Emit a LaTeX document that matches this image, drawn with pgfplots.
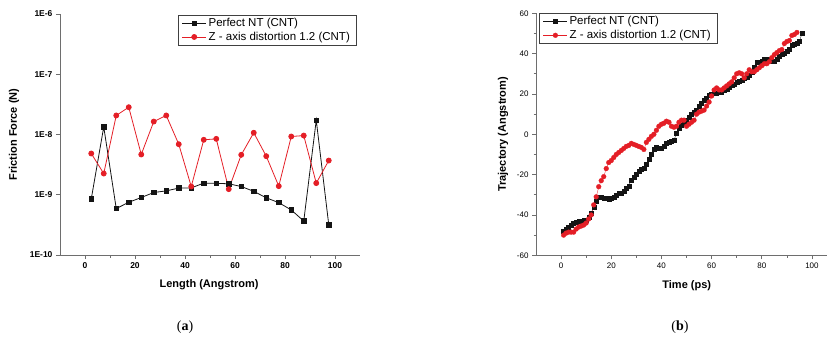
\documentclass[border=0pt]{standalone}
\usepackage{fontspec}
\setmainfont{Liberation Sans}
\newfontfamily\seriffont{Liberation Serif}
\usepackage{pgfplots}
\usepackage{pgfplotstable}
\pgfplotsset{compat=1.18}
\definecolor{ored}{RGB}{228,30,38}
\definecolor{oblack}{RGB}{20,20,20}
\definecolor{axgray}{RGB}{110,110,110}

\pgfplotstableread{
x perfect distort
2.5 8.5e-10 4.84e-9
7.5 1.34e-8 2.25e-9
12.5 5.9e-10 2.07e-8
17.5 7.5e-10 2.84e-8
22.5 9.0e-10 4.66e-9
27.5 1.09e-9 1.64e-8
32.5 1.16e-9 2.07e-8
37.5 1.29e-9 6.9e-9
42.5 1.30e-9 1.37e-9
47.5 1.56e-9 8.17e-9
52.5 1.55e-9 8.47e-9
57.5 1.52e-9 1.24e-9
62.5 1.37e-9 4.6e-9
67.5 1.14e-9 1.07e-8
72.5 8.9e-10 4.37e-9
77.5 7.4e-10 1.39e-9
82.5 5.6e-10 9.27e-9
87.5 3.66e-10 9.6e-9
92.5 1.73e-8 1.56e-9
97.5 3.18e-10 3.7e-9
}\frictable

\pgfplotstableread{
t y
1 -48
2 -47
3 -46
4 -45
5 -44
6 -43.5
7 -43
8 -43
9 -42.5
10 -42.5
11 -41
12 -39
13 -36
14 -33
15 -31
16 -31
17 -31.5
18 -31.5
19 -32
20 -31.5
21 -31
22 -30
23 -29
24 -29
25 -28
26 -26.5
27 -25.5
28 -22.5
29 -21
30 -20
31 -18.5
32 -17.5
33 -17
34 -15
35 -12.5
36 -10
37 -7.5
38 -6.5
39 -7
40 -7
41 -6
42 -4.5
43 -4
44 -3.5
45 -3
46 0.5
47 3
48 4.5
49 5.5
50 7
51 8.5
52 10
53 11
54 12
55 14
56 15.5
57 17
58 18
59 19.5
60 20
61 20.5
62 20.5
63 21
64 21
65 22
66 22.5
67 23.5
68 24.5
69 25
70 26
71 26.5
72 27
73 28
74 28.5
75 29.5
76 31
77 33.5
78 36
79 36
80 36.5
81 37.5
82 37.5
83 37
84 36.5
85 36.5
86 37.5
87 39
88 39.5
89 40
90 41
91 42
92 44
93 44.5
94 45
95 46
96 50
}\trajperfect

\pgfplotstableread{
t y
1 -50
2 -49
3 -48.5
4 -48.5
5 -48.5
6 -47
7 -46
8 -45.5
9 -45
10 -44
11 -42
12 -40
13 -35
14 -31
15 -26
16 -23
17 -21
18 -17
19 -14
20 -13
21 -11.5
22 -10
23 -9
24 -8
25 -7
26 -6
27 -5.5
28 -4.5
29 -5
30 -5.5
31 -6
32 -6.5
33 -7.5
34 -4
35 -2.5
36 -1
37 0
38 2
39 4
40 5
41 5.5
42 6.5
43 6
44 4
45 3.5
46 4
47 6
48 7
49 7
50 4
51 5
52 6
53 7
54 10
55 11
56 11.5
57 12
58 14
59 16
60 19
61 22
62 23
63 22
64 22
65 23
66 24
67 25
68 26
69 28
70 30
71 30.5
72 30
73 28
74 30
75 32
76 31
77 31
78 32
79 33
80 34
81 35
82 35
83 36
84 38
85 39.5
86 40.5
87 41.5
88 42
89 45
90 46
91 46.5
92 49
93 49.5
94 50.5
}\trajdistort

\pgfplotsset{
  originstyle/.style={
    scale only axis,
    axis x line*=bottom,
    axis y line*=left,
    axis line style={draw=axgray, line width=0.7pt, -},
    tick style={draw=axgray, line width=0.7pt},
    tick align=outside,
    major tick length=4pt,
    minor tick length=2.5pt,
    /pgf/number format/assume math mode=true,
    label style={font=\bfseries\fontsize{11}{13}\selectfont},
    legend cell align=left,
    legend image code/.code={\draw[mark repeat=2,mark phase=2,##1] plot coordinates {(0pt,0pt) (12pt,0pt) (24pt,0pt)};},
    legend style={draw=black!75, line width=0.5pt, font=\fontsize{11.5}{13.5}\selectfont, inner xsep=4pt, inner ysep=1pt, row sep=0pt},
  }
}

\begin{document}
\begin{tikzpicture}[x=1pt,y=1pt]
\useasboundingbox (0,0) rectangle (827,343);

\begin{axis}[originstyle,
  at={(60pt,88pt)}, anchor=south west,
  width=300pt, height=241pt,
  xmin=-10, xmax=110,
  ymode=log, ymin=1e-10, ymax=1e-6,
  xtick={0,20,40,60,80,100},
  minor x tick num=1,
  ytick={1e-10,1e-9,1e-8,1e-7,1e-6},
  yticklabels={1E-10,1E-9,1E-8,1E-7,1E-6},
  yminorticks=false,
  ticklabel style={font=\bfseries\fontsize{8.5}{10}\selectfont},
  xlabel={Length (Angstrom)},
  ylabel={Friction Force (N)},
  xlabel style={at={(axis description cs:0.497,-0.1245)}, anchor=center},
  ylabel style={at={(axis description cs:-0.1533,0.5)}, anchor=center},
  legend style={at={(0.987,0.996)}, anchor=north east},
]
\addplot[oblack, line width=0.8pt, mark=square*, mark size=2.2pt, mark options={solid}] table[x=x, y=perfect] {\frictable};
\addlegendentry{Perfect NT (CNT)}
\addplot[ored, line width=0.8pt, mark=*, mark size=2.5pt, mark options={solid}] table[x=x, y=distort] {\frictable};
\addlegendentry{Z - axis distortion 1.2 (CNT)}
\end{axis}

\begin{axis}[originstyle,
  at={(536pt,87.7pt)}, anchor=south west,
  width=291pt, height=242pt,
  xmin=-10, xmax=106,
  ymin=-60, ymax=60,
  xtick={0,20,40,60,80,100},
  minor x tick num=1,
  ytick={-60,-40,-20,0,20,40,60},
  minor y tick num=1,
  ticklabel style={font=\fontsize{8}{9.5}\selectfont},
  xlabel={Time (ps)},
  ylabel={Trajectory (Angstrom)},
  xlabel style={at={(axis description cs:0.518,-0.124)}, anchor=center},
  ylabel style={at={(axis description cs:-0.1134,0.5)}, anchor=center},
  legend style={at={(0.0103,1.0)}, anchor=north west},
]
\addplot[oblack, line width=0.3pt, mark=square*, mark size=2pt, mark options={solid}] table[x=t, y=y] {\trajperfect};
\addlegendentry{Perfect NT (CNT)}
\addplot[ored, line width=0.3pt, mark=*, mark size=2.4pt, mark options={solid}] table[x=t, y=y] {\trajdistort};
\addlegendentry{Z - axis distortion 1.2 (CNT)}
\end{axis}

\node[font=\seriffont\fontsize{14}{16}\selectfont] at (185,16) {(\textbf{a})};
\node[font=\seriffont\fontsize{14}{16}\selectfont] at (680,16) {(\textbf{b})};
\end{tikzpicture}
\end{document}
